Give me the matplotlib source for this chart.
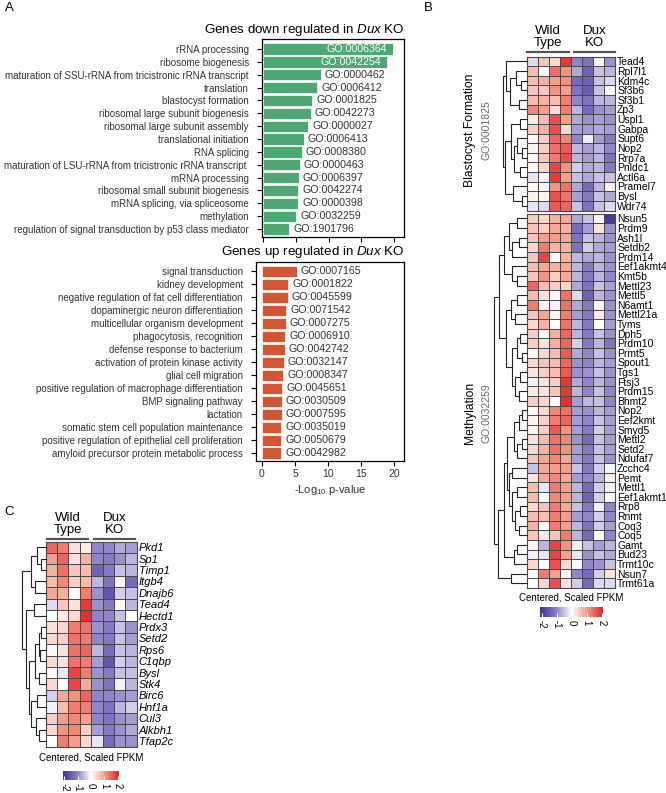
import numpy as np
import matplotlib
matplotlib.use("Agg")
import matplotlib.pyplot as plt
from matplotlib.colors import LinearSegmentedColormap, Normalize
from matplotlib.cm import ScalarMappable

plt.rcParams['font.family'] = ['Liberation Sans', 'DejaVu Sans']
plt.rcParams['mathtext.fontset'] = 'custom'
plt.rcParams['mathtext.rm'] = 'Liberation Sans'
plt.rcParams['mathtext.it'] = 'Liberation Sans:italic'

# ---------------- data: panel A ----------------
down_terms = ["rRNA processing", "ribosome biogenesis",
              "maturation of SSU-rRNA from tricistronic rRNA transcript",
              "translation", "blastocyst formation",
              "ribosomal large subunit biogenesis",
              "ribosomal large subunit assembly", "translational initiation",
              "RNA splicing",
              "maturation of LSU-rRNA from tricistronic rRNA transcript ",
              "mRNA processing", "ribosomal small subunit biogenesis",
              "mRNA splicing, via spliceosome", "methylation",
              "regulation of signal transduction by p53 class mediator"]
down_go = ["GO:0006364", "GO:0042254", "GO:0000462", "GO:0006412",
           "GO:0001825", "GO:0042273", "GO:0000027", "GO:0006413",
           "GO:0008380", "GO:0000463", "GO:0006397", "GO:0042274",
           "GO:0000398", "GO:0032259", "GO:1901796"]
down_vals = [19.85, 18.9, 8.8, 8.3, 7.5, 7.3, 6.9, 6.2, 5.9, 5.6, 5.5, 5.4,
             5.35, 5.1, 4.0]

up_terms = ["signal transduction", "kidney development",
            "negative regulation of fat cell differentiation",
            "dopaminergic neuron differentiation",
            "multicellular organism development", "phagocytosis, recognition",
            "defense response to bacterium",
            "activation of protein kinase activity", "glial cell migration",
            "positive regulation of macrophage differentiation",
            "BMP signaling pathway", "lactation",
            "somatic stem cell population maintenance",
            "positive regulation of epithelial cell proliferation",
            "amyloid precursor protein metabolic process"]
up_go = ["GO:0007165", "GO:0001822", "GO:0045599", "GO:0071542",
         "GO:0007275", "GO:0006910", "GO:0042742", "GO:0032147",
         "GO:0008347", "GO:0045651", "GO:0030509", "GO:0007595",
         "GO:0035019", "GO:0050679", "GO:0042982"]
up_vals = [5.3, 4.0, 3.9, 3.7, 3.6, 3.55, 3.45, 3.3, 3.2, 3.05, 3.0, 3.0,
           2.95, 2.9, 2.9]

# ---------------- data: panel B ----------------
blast_genes = ["Tead4", "Rpl7l1", "Kdm4c", "Sf3b6", "Sf3b1", "Zp3", "Uspl1",
               "Gabpa", "Supt6", "Nop2", "Rrp7a", "Pnldc1", "Actl6a",
               "Pramel7", "Bysl", "Wdr74"]
blast_vals = [
    [-0.3, 0.6, 0.4, 1.9, -1.0, -1.2, 0.1, -0.9],
    [0.7, 0.0, 1.4, 1.1, -0.7, -1.4, -0.5, -0.6],
    [0.7, 0.8, 1.0, 1.1, -1.3, -1.4, -0.5, -0.3],
    [0.6, 0.6, 1.1, 1.0, -1.2, -1.5, -0.5, 0.0],
    [0.7, 0.8, 0.7, 1.3, -1.0, -1.2, -0.6, -0.6],
    [1.2, 1.0, 0.3, 1.3, -0.6, -1.3, -0.9, -0.8],
    [0.2, 0.7, 1.7, 1.0, -0.7, -0.9, -0.8, -0.9],
    [0.5, 0.8, 1.7, 0.4, -0.8, -0.8, -0.7, -0.8],
    [0.05, 0.5, 1.5, 1.2, -1.0, -0.15, -0.8, -1.1],
    [0.1, 0.5, 1.4, 1.6, -0.6, -0.8, -0.6, -1.0],
    [0.05, 0.6, 1.3, 1.7, -0.6, -0.8, -0.6, -1.2],
    [0.05, 0.4, 1.8, 1.1, -0.4, -0.7, -0.6, -1.1],
    [-0.2, 0.1, 1.9, 1.0, -0.5, -0.7, -0.5, -0.5],
    [0.05, 0.05, 1.1, 1.4, -0.7, -1.3, -0.6, 0.15],
    [0.1, 0.1, 1.7, 1.4, -0.8, -1.1, -0.5, -0.7],
    [-0.2, -0.3, 1.6, 1.5, -0.5, -1.2, -0.5, -0.3],
]
meth_genes = ["Nsun5", "Prdm9", "Ash1l", "Setdb2", "Prdm14", "Eef1akmt4",
              "Kmt5b", "Mettl23", "Mettl5", "N6amt1", "Mettl21a", "Tyms",
              "Dph5", "Prdm10", "Prmt5", "Spout1", "Tgs1", "Ftsj3", "Prdm15",
              "Bhmt2", "Nop2", "Eef2kmt", "Smyd5", "Mettl2", "Setd2",
              "Ndufaf7", "Zcchc4", "Pemt", "Mettl1", "Eef1akmt1", "Rrp8",
              "Rnmt", "Coq3", "Coq5", "Gamt", "Bud23", "Trmt10c", "Nsun7",
              "Trmt61a"]
meth_vals = [
    [0.5, 0.4, 0.8, 0.9, -0.7, -0.5, 0.05, -2.0],
    [0.6, 0.5, 0.9, 0.8, -1.3, -0.8, 0.3, -0.9],
    [0.6, 1.0, 1.0, 0.9, -1.2, -0.5, -0.6, -0.9],
    [0.4, 1.3, 0.8, 0.8, -1.2, -0.4, -0.7, -0.8],
    [0.6, 1.8, 0.0, 0.8, -0.6, -0.7, -0.6, -0.9],
    [0.7, 0.9, 0.8, 0.9, -0.6, -1.1, -0.6, -0.9],
    [0.6, 1.1, 0.5, 0.9, -0.6, -1.1, -0.6, -1.0],
    [1.5, 0.7, 0.5, 0.4, -0.7, -1.2, -0.5, -0.8],
    [0.7, 0.3, 0.05, 1.4, -0.3, -1.4, -0.6, -0.9],
    [1.3, 0.1, -0.1, 1.4, -0.7, -1.1, 0.05, -0.9],
    [0.6, 0.9, 0.1, 1.3, -0.8, -1.1, 0.2, -0.9],
    [0.4, 0.8, 0.0, 1.4, -0.6, -1.1, 0.0, -0.8],
    [0.5, 0.1, 0.8, 1.5, -0.6, -1.1, -0.5, -0.9],
    [0.5, 0.3, 0.8, 1.5, -0.4, -1.1, -0.6, -1.2],
    [0.1, 0.4, 0.7, 1.6, -0.7, -1.0, -0.5, -0.9],
    [0.4, 0.6, 0.7, 1.5, -0.9, -1.0, -0.6, -0.8],
    [0.3, 0.5, 0.7, 1.6, -0.9, -0.9, -0.5, -0.9],
    [-0.1, 0.3, 0.5, 1.9, -0.7, -1.0, -0.6, -0.9],
    [0.2, 0.3, 0.6, 1.9, -0.6, -1.0, -0.5, -1.0],
    [0.5, 0.4, 0.0, 2.0, -0.8, -0.6, -0.5, -1.0],
    [0.05, 0.4, 1.2, 1.4, -0.8, -0.9, -0.6, -0.8],
    [0.1, 0.5, 1.3, 1.5, -0.8, -1.0, -0.5, -0.8],
    [0.1, 0.5, 1.6, 1.1, -0.8, -1.1, -0.4, -0.8],
    [0.3, 0.7, 1.4, 1.2, -0.9, -1.3, -0.5, -0.8],
    [0.4, 0.8, 1.4, 1.1, -0.8, -1.1, -0.5, -0.8],
    [0.6, 0.9, 1.2, 0.9, -0.8, -1.1, -0.5, -0.9],
    [-0.5, 0.9, 1.0, 1.0, -0.5, -1.1, -0.4, -0.1],
    [0.3, 0.9, 1.2, 0.9, -0.8, -1.0, -0.6, 0.15],
    [0.7, -0.2, 1.3, 1.0, -0.6, -1.3, -0.4, -0.1],
    [0.7, 0.0, 1.2, 1.0, -0.6, -1.4, -0.4, 0.0],
    [0.4, 0.6, 1.3, 0.9, -0.5, -1.1, -0.1, -1.0],
    [0.7, 0.7, 1.3, 1.0, -0.8, -1.0, -0.4, -1.0],
    [0.8, 0.0, 1.3, 1.0, -0.6, -1.2, -0.4, -0.8],
    [0.6, 0.2, 0.6, 1.3, -0.6, -1.3, 0.0, -1.0],
    [0.1, -0.6, 1.8, 1.1, -0.1, -0.5, -0.8, -0.6],
    [-0.1, -0.2, 1.8, 1.0, -0.2, -0.9, -0.5, -0.7],
    [0.4, 0.0, 1.7, 0.4, -0.05, -1.0, -0.9, -0.5],
    [0.0, 1.3, 1.0, 0.1, -1.0, -1.3, -0.4, 0.3],
    [0.0, 0.4, 1.7, 0.3, -0.4, -1.3, -0.3, -0.3],
]

# ---------------- data: panel C ----------------
c_genes = ["Pkd1", "Sp1", "Timp1", "Itgb4", "Dnajb6", "Tead4", "Hectd1",
           "Prdx3", "Setd2", "Rps6", "C1qbp", "Bysl", "Stk4", "Birc6",
           "Hnf1a", "Cul3", "Alkbh1", "Tfap2c"]
c_vals = [
    [1.5, 1.3, 0.3, 0.2, -1.0, -1.0, -0.7, -0.8],
    [1.0, 1.5, 0.3, 0.8, -1.0, -1.1, -0.9, -0.6],
    [0.8, 1.4, 0.6, 0.7, -1.4, -1.1, -0.5, -0.6],
    [0.7, 1.2, 0.5, 0.7, -0.6, -1.2, 0.1, -1.3],
    [0.9, 0.8, 0.05, 1.3, -0.9, -1.6, -0.4, -0.5],
    [-0.3, 0.6, 0.3, 1.9, -0.9, -1.1, 0.05, -0.6],
    [0.0, 0.2, 0.4, 2.0, -1.0, -1.0, -0.5, 0.0],
    [0.3, 0.4, 1.3, 1.4, -0.9, -1.1, -0.5, -0.9],
    [0.4, 0.5, 1.4, 1.3, -1.0, -1.1, -0.5, -0.8],
    [0.05, 0.3, 1.4, 1.5, -0.6, -1.3, -0.5, -0.6],
    [0.4, 0.3, 1.4, 1.3, -0.8, -1.6, -0.4, -0.6],
    [0.05, -0.2, 1.8, 1.3, -0.9, -1.1, -0.5, -0.5],
    [0.4, 0.0, 1.8, 0.9, -0.9, -1.2, -0.1, -0.6],
    [-0.4, 0.9, 1.1, 1.5, -1.0, -1.0, -0.9, -0.8],
    [-0.1, 0.7, 1.3, 1.3, -1.0, -1.2, -0.6, -0.4],
    [0.5, 1.0, 1.2, 1.0, -1.0, -1.2, -0.9, -0.8],
    [0.4, 1.1, 1.2, 0.5, -0.8, -1.1, -0.9, -0.7],
    [0.0, 1.3, 1.0, 0.4, -0.2, -1.3, -0.9, -0.9],
]

# dendrograms: (merge height, left, right), leaves are row indices
blast_tree = (1.0,
              (0.88, 0, (0.7, (0.45, 1, (0.25, 2, 3)), (0.35, 4, 5))),
              (0.9, (0.68, (0.3, 6, 7),
                     (0.55, (0.4, 8, (0.2, 9, 10)), (0.3, 11, 12))),
               (0.6, 13, (0.2, 14, 15))))
meth_tree = (1.0,
             (0.85,
              (0.7, (0.55, (0.3, 0, 1), (0.45, (0.25, 2, 3), 4)),
               (0.45, 5, (0.3, 6, 7))),
              (0.65, (0.5, (0.3, 8, 9), (0.35, 10, 11)),
               (0.45, (0.3, (0.2, 12, 13), (0.15, 14, 15)),
                (0.35, (0.2, 16, 17), (0.25, 18, 19))))),
             (0.88,
              (0.7, (0.6, (0.4, (0.25, (0.15, 20, 21), 22),
                           (0.3, (0.15, 23, 24), 25)),
                     (0.55, (0.45, 26, 27),
                      (0.45, (0.3, 28, 29),
                       (0.35, (0.2, 30, 31), (0.25, 32, 33))))),
               (0.38, (0.3, 34, 35), 36)),
              (0.48, 37, 38)))
c_tree = (1.0,
          (0.6, (0.35, 0, (0.2, 1, 2)), (0.45, 3, 4)),
          (0.85, (0.5, 5, 6),
           (0.7, (0.45, (0.3, (0.2, 7, 8), (0.25, 9, 10)), (0.3, 11, 12)),
            (0.6, (0.35, 13, 14), (0.4, 15, (0.3, 16, 17))))))

W, H = 666, 793
fig = plt.figure(figsize=(W / 100, H / 100), dpi=100)


def px_axes(x0, y0, x1, y1):
    return fig.add_axes([x0 / W, 1 - y1 / H, (x1 - x0) / W, (y1 - y0) / H])


def px_text(x, y, s, **kw):
    return fig.text(x / W, 1 - y / H, s, **kw)


cmap = LinearSegmentedColormap.from_list(
    "bwr_fpkm", ["#3d3297", "#8b7dc5", "#ffffff", "#f29a86", "#e3232a"])
norm = Normalize(-2.1, 2.1)
text_col = "#333333"


def go_bars(ax, terms, gos, vals, color, inside_min):
    n = len(vals)
    y = np.arange(n)
    ax.barh(y, vals, height=0.88, color=color, edgecolor="white",
            linewidth=0.5)
    for yi, v, g in zip(y, vals, gos):
        if v > inside_min:
            ax.text(v - 0.9, yi, g, ha="right", va="center", color="white",
                    fontsize=7.7)
        else:
            ax.text(v + 0.6, yi, g, ha="left", va="center", color=text_col,
                    fontsize=7.7)
    ax.set_yticks(y)
    ax.set_yticklabels(terms, fontsize=7, color=text_col)
    ax.set_xticks([0, 5, 10, 15, 20])
    ax.tick_params(length=3.5, width=0.8, pad=2)
    ax.tick_params(axis="y", pad=6)
    for s in ax.spines.values():
        s.set_linewidth(0.9)


# panel A top
ax1 = px_axes(262, 39, 404, 237)
go_bars(ax1, down_terms, down_go, down_vals, "#4ea873", 15)
ax1.set_xlim(-0.15, 21.5)
ax1.set_ylim(14.62, -0.78)
ax1.tick_params(axis="x", labelbottom=False)
px_text(405, 30, "Genes down regulated in $\\mathit{Dux}$ KO", ha="right",
        va="center", fontsize=9.6)

# panel A bottom
ax2 = px_axes(256, 262, 404, 461)
go_bars(ax2, up_terms, up_go, up_vals, "#d25634", 15)
ax2.set_xlim(-0.9, 21.5)
ax2.set_ylim(14.6, -0.72)
ax2.tick_params(axis="x", labelsize=7.5, labelcolor=text_col)
ax2.set_xlabel("-Log$_{10}$ p-value", fontsize=8, color=text_col, labelpad=3)
px_text(404, 252, "Genes up regulated in $\\mathit{Dux}$ KO", ha="right",
        va="center", fontsize=9.6)


def draw_tree(ax, node):
    if isinstance(node, int):
        return node + 0.5, 0.0
    h, left, right = node
    y1, h1 = draw_tree(ax, left)
    y2, h2 = draw_tree(ax, right)
    ax.plot([h1, h, h, h2], [y1, y1, y2, y2], color="#222222", lw=0.8,
            clip_on=False, solid_joinstyle="miter")
    return (y1 + y2) / 2, h


def heat(x0, y0, x1, y1, vals, genes, tree, dendro_x0, italic=False,
         fsize=7.5):
    data = np.array(vals)
    n = data.shape[0]
    ax = px_axes(x0, y0, x1, y1)
    ax.pcolormesh(data, cmap=cmap, norm=norm, edgecolors="#4a4a4a",
                  linewidth=0.6)
    ax.set_xlim(0, data.shape[1])
    ax.set_ylim(n, 0)
    ax.set_xticks([])
    ax.yaxis.tick_right()
    ax.set_yticks(np.arange(n) + 0.5)
    ax.set_yticklabels(genes, fontsize=fsize,
                       fontstyle="italic" if italic else "normal")
    ax.tick_params(axis="y", length=0, pad=1.5)
    for s in ax.spines.values():
        s.set_color("#4a4a4a")
        s.set_linewidth(0.8)
    dax = px_axes(dendro_x0, y0, x0, y1)
    draw_tree(dax, tree)
    dax.set_xlim(1.0, 0)
    dax.set_ylim(n, 0)
    dax.axis("off")
    return ax


def group_header(xa0, xa1, xb0, xb1, y_line, y_text):
    for (a, b, lab) in [(xa0, xa1, "Wild\nType"), (xb0, xb1, "Dux\nKO")]:
        fig.add_artist(plt.Line2D([a / W, b / W],
                                  [1 - y_line / H, 1 - y_line / H],
                                  color="#555555", lw=1.6))
        px_text((a + b) / 2, y_text, lab, ha="center", va="bottom",
                fontsize=9.5, linespacing=1.0)


def colorbar(x0, y0, x1, y1, label_y):
    cax = px_axes(x0, y0, x1, y1)
    cb = fig.colorbar(ScalarMappable(norm=norm, cmap=cmap), cax=cax,
                      orientation="horizontal", ticks=[-2, -1, 0, 1, 2])
    cb.outline.set_visible(False)
    cb.ax.tick_params(direction="in", color="white", length=3, width=0.8,
                      labelsize=7, pad=2)
    cb.ax.set_xticklabels(["-2", "-1", "0", "1", "2"], rotation=270)
    px_text((x0 + x1) / 2, label_y, "Centered, Scaled FPKM", ha="center",
            va="center", fontsize=7)


# panel B
heat(527, 56.5, 615, 210.5, blast_vals, blast_genes, blast_tree, 503)
heat(527, 213.5, 615, 588, meth_vals, meth_genes, meth_tree, 494)
group_header(527, 569, 574, 615, 52, 49)
px_text(470, 130, "Blastocyst Formation", rotation=90, ha="center",
        va="center", fontsize=8.7)
px_text(486, 130, "GO:0001825", rotation=90, ha="center", va="center",
        fontsize=7.5, color="#666666")
px_text(470, 413, "Methylation", rotation=90, ha="center", va="center",
        fontsize=8.7)
px_text(486, 413, "GO:0032259", rotation=90, ha="center", va="center",
        fontsize=7.5, color="#666666")
colorbar(540, 607, 603, 617, 598)

# panel C
heat(45.7, 541.5, 136.7, 746.7, c_vals, c_genes, c_tree, 22, italic=True,
     fsize=8)
group_header(46.7, 88.3, 94, 135, 538.5, 536)
colorbar(63, 771, 119, 780, 758)

# panel letters
px_text(5, 8, "A", fontsize=9.5, va="center")
px_text(424, 8, "B", fontsize=9.5, va="center")
px_text(4, 512, "C", fontsize=9.5, va="center")

fig.savefig("out.png", dpi=100)
